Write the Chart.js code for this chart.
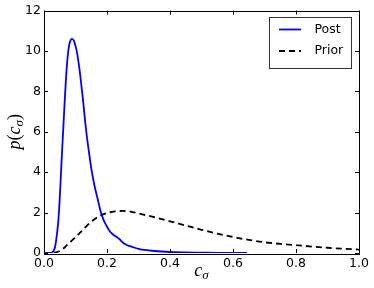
<!DOCTYPE html>
<html>
<head>
<meta charset="utf-8">
<script src="https://cdn.jsdelivr.net/npm/chart.js@4.4.1/dist/chart.umd.min.js"></script>
<style>
  html, body { margin: 0; padding: 0; background: #fff; }
  #wrap { width: 374px; height: 288px; }
</style>
</head>
<body>
<div id="wrap"><canvas id="densidade"></canvas></div>
<script>
// posterior p(c_sigma)
var postX = [0, 0.02, 0.025, 0.03, 0.035, 0.04, 0.045, 0.05, 0.055, 0.06, 0.065, 0.07, 0.075, 0.08, 0.085, 0.09,
  0.095, 0.1, 0.105, 0.11, 0.115, 0.12, 0.125, 0.13, 0.135, 0.14, 0.15, 0.16, 0.17, 0.18, 0.19, 0.2,
  0.21, 0.22, 0.23, 0.24, 0.25, 0.26, 0.27, 0.28, 0.3, 0.32, 0.35, 0.4, 0.45, 0.5, 0.55, 0.6, 0.645];
var postY = [0, 0, 0.02, 0.1, 0.3, 0.8, 1.5, 2.7, 4.3, 5.8, 7.3, 8.7, 9.7, 10.3, 10.55, 10.6,
  10.5, 10.25, 9.9, 9.4, 8.8, 8.1, 7.4, 6.6, 5.9, 5.3, 4.2, 3.35, 2.7, 2.05, 1.6, 1.3,
  1.05, 0.9, 0.8, 0.68, 0.52, 0.42, 0.35, 0.3, 0.21, 0.15, 0.1, 0.05, 0.03, 0.02, 0.01, 0.005, 0];

// prior
var priorX = [0, 0.025, 0.05, 0.06, 0.075, 0.1, 0.125, 0.15, 0.175, 0.2, 0.225, 0.25, 0.275, 0.3,
  0.35, 0.4, 0.45, 0.5, 0.55, 0.6, 0.65, 0.7, 0.75, 0.8, 0.85, 0.9, 0.95, 1.0];
var priorY = [0, 0.01, 0.1, 0.2, 0.42, 0.78, 1.17, 1.55, 1.82, 1.98, 2.06, 2.08, 2.05, 1.96,
  1.77, 1.57, 1.36, 1.15, 0.96, 0.79, 0.65, 0.53, 0.45, 0.39, 0.32, 0.26, 0.21, 0.17];

var xTicks = [0, 0.2, 0.4, 0.6, 0.8, 1.0];
var yTicks = [0, 2, 4, 6, 8, 10, 12];
var legendLabels = ['Post', 'Prior'];

function pontos(xs, ys) {
  return xs.map(function (x, i) { return { x: x, y: ys[i] }; });
}

var tickFont = { family: 'DejaVu Sans', size: 12.5 };

// label with subscript, drawn at (0,0) centred
function textoSub(ctx, parts) {
  var w = 0;
  parts.forEach(function (p) { ctx.font = p.font; w += ctx.measureText(p.t).width; });
  var x = -w / 2;
  parts.forEach(function (p) {
    ctx.font = p.font;
    ctx.fillText(p.t, x, p.dy || 0);
    x += ctx.measureText(p.t).width;
  });
}

var extras = {
  id: 'extras',
  afterDatasetsDraw: function (chart) {
    var ctx = chart.ctx, a = chart.chartArea;
    var xs = chart.scales.x, ys = chart.scales.y;
    ctx.save();
    ctx.strokeStyle = '#000';
    ctx.lineWidth = 1;
    ctx.setLineDash([]);
    // inward ticks, all four sides
    var L = 4;
    ctx.beginPath();
    xTicks.forEach(function (v) {
      var px = Math.round(xs.getPixelForValue(v)) + 0.5;
      ctx.moveTo(px, a.bottom); ctx.lineTo(px, a.bottom - L);
      ctx.moveTo(px, a.top); ctx.lineTo(px, a.top + L);
    });
    yTicks.forEach(function (v) {
      var py = Math.round(ys.getPixelForValue(v)) + 0.5;
      ctx.moveTo(a.left, py); ctx.lineTo(a.left + L, py);
      ctx.moveTo(a.right, py); ctx.lineTo(a.right - L, py);
    });
    ctx.stroke();
    // frame
    ctx.strokeRect(Math.round(a.left) + 0.5, Math.round(a.top) + 0.5,
      Math.round(a.right - a.left), Math.round(a.bottom - a.top));

    // legend box
    var bx = 269.5, by = 17.5, bw = 82, bh = 51;
    ctx.fillStyle = '#fff';
    ctx.fillRect(bx, by, bw, bh);
    ctx.strokeStyle = '#333';
    ctx.strokeRect(bx, by, bw, bh);
    var estilos = chart.data.datasets;
    legendLabels.forEach(function (lab, i) {
      var ly = 29.5 + i * 21.5;
      ctx.strokeStyle = estilos[i].borderColor;
      ctx.lineWidth = estilos[i].borderWidth;
      ctx.setLineDash(estilos[i].borderDash || []);
      ctx.beginPath();
      ctx.moveTo(279, ly); ctx.lineTo(301, ly);
      ctx.stroke();
      ctx.setLineDash([]);
      ctx.fillStyle = '#000';
      ctx.font = '12.5px "DejaVu Sans"';
      ctx.textBaseline = 'middle';
      ctx.textAlign = 'left';
      ctx.fillText(lab, 314.5, ly);
    });
    ctx.restore();
  },
  afterDraw: function (chart) {
    var ctx = chart.ctx, a = chart.chartArea;
    ctx.save();
    ctx.fillStyle = '#000';
    ctx.textBaseline = 'alphabetic';
    ctx.textAlign = 'left';
    var it = 'italic 18px "Liberation Serif"';
    var up = '18px "Liberation Serif"';
    var sub = 'italic 13px "Liberation Serif"';
    // x label
    ctx.save();
    ctx.translate((a.left + a.right) / 2, 276);
    textoSub(ctx, [{ t: 'c', font: it }, { t: 'σ', font: sub, dy: 3 }]);
    ctx.restore();
    // y label
    ctx.save();
    ctx.translate(20, (a.top + a.bottom) / 2);
    ctx.rotate(-Math.PI / 2);
    textoSub(ctx, [{ t: 'p', font: it }, { t: '(', font: up }, { t: 'c', font: it },
      { t: 'σ', font: sub, dy: 3 }, { t: ')', font: up }]);
    ctx.restore();
    ctx.restore();
  }
};

var config = {
  type: 'line',
  data: {
    datasets: [{
      label: legendLabels[0],
      data: pontos(postX, postY),
      borderColor: '#0000ff',
      borderWidth: 1.8,
      pointRadius: 0,
      fill: false,
      cubicInterpolationMode: 'monotone'
    }, {
      label: legendLabels[1],
      data: pontos(priorX, priorY),
      borderColor: '#000000',
      borderWidth: 1.8,
      borderDash: [6, 4],
      pointRadius: 0,
      fill: false,
      cubicInterpolationMode: 'monotone'
    }]
  },
  options: {
    responsive: true,
    maintainAspectRatio: false,
    animation: false,
    events: [],
    layout: { padding: { top: 10, right: 15, left: 0, bottom: 0 } },
    plugins: { legend: { display: false }, tooltip: { enabled: false } },
    scales: {
      x: {
        type: 'linear',
        min: 0, max: 1,
        afterFit: function (s) { s.height = 35; },
        afterBuildTicks: function (s) { s.ticks = xTicks.map(function (v) { return { value: v }; }); },
        grid: { display: false, drawTicks: false },
        border: { display: false },
        ticks: {
          color: '#000', font: tickFont, padding: 3, maxRotation: 0,
          callback: function (v) { return Number(v).toFixed(1); }
        }
      },
      y: {
        min: 0, max: 12,
        afterFit: function (s) { s.width = 44; },
        afterBuildTicks: function (s) { s.ticks = yTicks.map(function (v) { return { value: v }; }); },
        grid: { display: false, drawTicks: false },
        border: { display: false },
        ticks: { color: '#000', font: tickFont, padding: 3 }
      }
    }
  },
  plugins: [extras]
};

new Chart(document.getElementById('densidade'), config);
</script>
</body>
</html>
